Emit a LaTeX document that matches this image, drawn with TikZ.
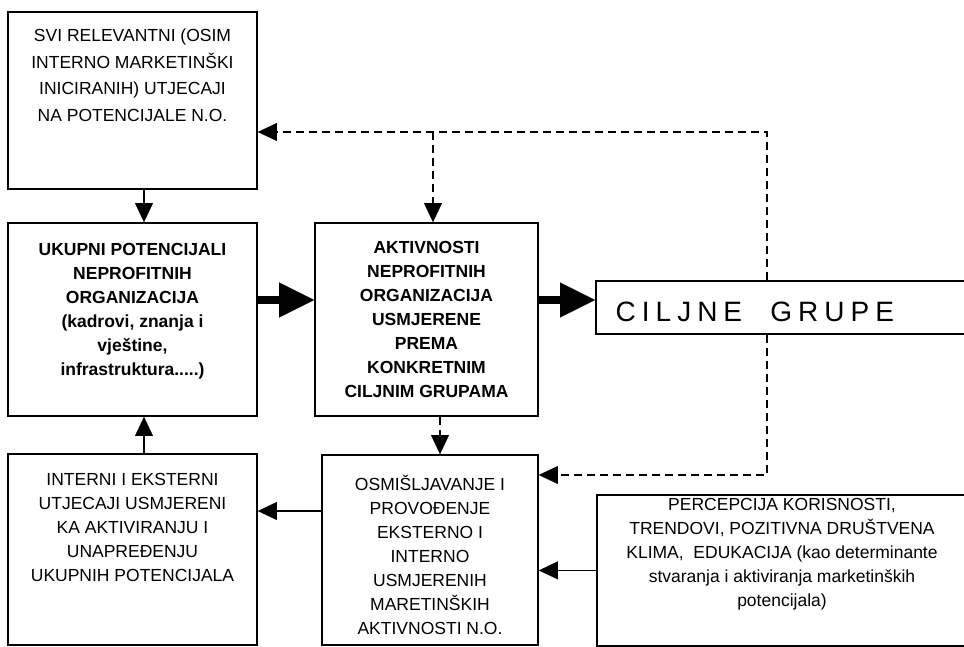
\documentclass[tikz,border=0pt]{standalone}
\usepackage{fontspec}
\setmainfont{Liberation Sans}
\usetikzlibrary{arrows.meta,calc}
\newcommand\topstrut{\rule{0pt}{17pt}}
\begin{document}
\begin{tikzpicture}[x=1pt,y=-1pt,
  box/.style={draw, line width=1.8pt, rectangle, inner sep=0pt},
  txt/.style={align=center, inner sep=0pt, anchor=north, font=\fontsize{17.5}{24}\selectfont},
  arr/.style={line width=1.3pt, -{Triangle[length=19pt,width=18pt,line width=0.01pt]}},
  darr/.style={line width=1.3pt, dash pattern=on 8pt off 5pt, -{Triangle[length=19pt,width=18pt,line width=0.01pt]}},
  bigarr/.style={line width=8.5pt, -{Triangle[length=35pt,width=35pt,line width=0.01pt]}}
]
\useasboundingbox (0,0) rectangle (964,647);
\clip (0,0) rectangle (964,647);

% boxes
\node[box, minimum width=249pt, minimum height=177pt] (b1) at (132.5,100.5) {};
\node[box, minimum width=249pt, minimum height=193pt] (b2) at (132.5,319.5) {};
\node[box, minimum width=223pt, minimum height=193pt] (b3) at (426.5,319.5) {};
\node[box, minimum width=390pt, minimum height=53pt, anchor=west] (cg) at (595,307.5) {};
\node[box, minimum width=249pt, minimum height=191pt] (b4) at (132.5,549.5) {};
\node[box, minimum width=216pt, minimum height=190pt] (b5) at (430,550) {};
\node[box, minimum width=380pt, minimum height=151pt, anchor=north west] (b6) at (596,494) {};

% texts
\node[txt, font=\fontsize{17.5}{26.5}\selectfont] (t1) at (132.5,24.7)
  {\topstrut SVI RELEVANTNI (OSIM\\INTERNO MARKETINŠKI\\INICIRANIH) UTJECAJI\\NA POTENCIJALE N.O.};
\node[txt, font=\fontsize{17.5}{24}\selectfont\bfseries] (t2) at (132.5,238)
  {\topstrut UKUPNI POTENCIJALI\\NEPROFITNIH\\ORGANIZACIJA\\(kadrovi, znanja i\\vještine,\\infrastruktura.....)};
\node[txt, font=\fontsize{17.5}{24}\selectfont\bfseries] (t3) at (426.5,236.3)
  {\topstrut AKTIVNOSTI\\NEPROFITNIH\\ORGANIZACIJA\\USMJERENE\\PREMA\\KONKRETNIM\\CILJNIM GRUPAMA};
\node[anchor=base west, inner sep=0pt, font=\fontsize{28}{30}\selectfont] (tcg) at (615.5,321.5)
  {C\kern6pt I\kern6pt L\kern6pt J\kern6pt N\kern6pt E\kern28.3pt G\kern6pt R\kern6pt U\kern6pt P\kern6pt E};
\node[txt] (t4) at (132.5,468)
  {\topstrut INTERNI I EKSTERNI\\UTJECAJI USMJERENI\\KA AKTIVIRANJU I\\UNAPREĐENJU\\UKUPNIH POTENCIJALA};
\node[txt] (t5) at (430,473)
  {\topstrut OSMIŠLJAVANJE I\\PROVOĐENJE\\EKSTERNO I\\INTERNO\\USMJERENIH\\MARETINŠKIH\\AKTIVNOSTI N.O.};
\node[txt] (t6) at (782,493)
  {\topstrut PERCEPCIJA KORISNOSTI,\\TRENDOVI, POZITIVNA DRUŠTVENA\\KLIMA,\ \ EDUKACIJA (kao determinante\\stvaranja i aktiviranja marketinških\\potencijala)};

% helper coordinates
\coordinate (a1) at ([xshift=11.5pt]b1.south);
\coordinate (a4) at ([xshift=11.5pt]b4.north);
\coordinate (h2) at ([yshift=19.5pt]b2.east);
\coordinate (h3) at ([yshift=19.5pt]b3.east);
\coordinate (tc) at (767,132);
\coordinate (tj) at (433,132);
\coordinate (bc) at (767,475);
\coordinate (dj) at ([xshift=13.5pt]b3.south);
\coordinate (h5) at ([yshift=39pt]b5.west);

% connectors
\draw[arr] (a1) -- (a1 |- b2.north);
\draw[arr] (a4) -- (a4 |- b2.south);
\draw[bigarr] (h2) -- (h2 -| b3.west);
\draw[bigarr] (h3) -- (h3 -| cg.west);
\draw[darr] (tc |- cg.north) -- (tc) -- (tc -| b1.east);
\draw[darr] (tj) -- (tj |- b3.north);
\draw[darr] (tc |- cg.south) -- (bc) -- (bc -| b5.east);
\draw[darr] (dj) -- (dj |- b5.north);
\draw[arr] (h5) -- (h5 -| b4.east);
\draw[arr] (b6.west) -- (b6.west -| b5.east);
\end{tikzpicture}
\end{document}
